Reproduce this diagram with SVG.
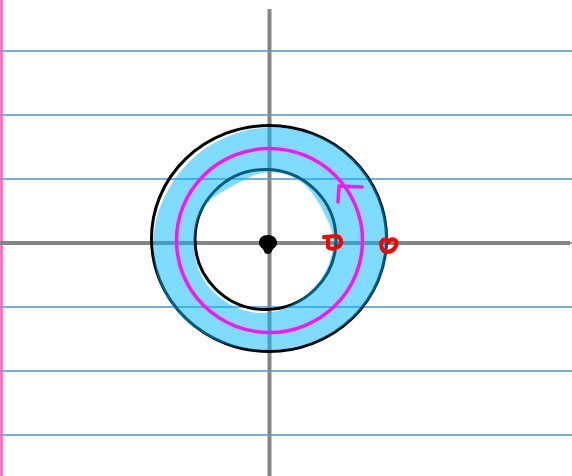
<svg xmlns="http://www.w3.org/2000/svg" width="572" height="476" viewBox="0 0 572 476">
<style>
.rule{stroke:#4a90e2;stroke-width:1.5;fill:none}
.axis{stroke:#858585;stroke-width:4;fill:none}
.red{stroke:#ff0000;stroke-width:4;fill:none;stroke-linecap:round;stroke-linejoin:round}
.mag{stroke:#ff14f0;stroke-width:3.5;fill:none;stroke-linecap:round;stroke-linejoin:round}
</style>
<rect width="572" height="476" fill="#ffffff"/>
<g id="paper">
<line class="rule" x1="0" y1="51" x2="572" y2="51"/>
<line class="rule" x1="0" y1="115" x2="572" y2="115"/>
<line class="rule" x1="0" y1="179" x2="572" y2="179"/>
<line class="rule" x1="0" y1="243" x2="572" y2="243"/>
<line class="rule" x1="0" y1="307" x2="572" y2="307"/>
<line class="rule" x1="0" y1="371" x2="572" y2="371"/>
<line class="rule" x1="0" y1="435" x2="572" y2="435"/>
<line x1="1.5" y1="0" x2="1.5" y2="476" stroke="#ff5cb0" stroke-width="2.5"/>
</g>
<g id="axes">
<line class="axis" x1="269.5" y1="9" x2="269.5" y2="476"/>
<line class="axis" x1="0" y1="243" x2="570" y2="243"/>
</g>
<g id="outer-circle">
<ellipse cx="269" cy="238.5" rx="117.5" ry="113" fill="none" stroke="#000000" stroke-width="3"/>
</g>
<g id="inner-circle">
<ellipse cx="265.5" cy="239.5" rx="70.5" ry="70" fill="none" stroke="#000000" stroke-width="3"/>
</g>
<g id="ring-fill">
<path fill="#00b8ff" fill-opacity="0.5" fill-rule="evenodd" d="M383.4,268.0 Q391.6,238.5 383.0,209.3 Q374.3,180.0 352.1,158.6 Q329.8,137.2 299.4,130.4 Q269,123.6 239.7,132.2 Q210.3,140.8 189.3,161.7 Q168.2,182.6 158.9,210.6 Q149.5,238.5 155.7,268.3 Q161.9,298.0 184.8,319.4 Q207.7,340.7 238.4,347.1 Q269,353.4 299.2,346.2 Q329.3,339.0 352.3,318.3 Q375.2,297.5 383.4,268.0 Z M331.2,257.1 Q335.9,239.5 329.0,223.2 Q322.0,206.9 311.6,192.3 Q301.2,177.7 283.4,173.4 Q265.5,169.1 249.7,177.0 Q233.9,184.9 218.4,194.1 Q202.8,203.3 197.4,221.4 Q192.0,239.5 195.6,258.7 Q199.2,277.8 213.2,291.8 Q227.2,305.8 246.4,311.0 Q265.5,316.1 283.4,308.7 Q301.2,301.3 313.9,288.0 Q326.5,274.7 331.2,257.1 Z"/>
</g>
<g id="path-circle">
<ellipse cx="269.5" cy="240.5" rx="93" ry="92" class="mag"/>
<path d="M362,187 L339,186 L338,202" class="mag"/>
</g>
<g id="origin">
<path fill="#000000" d="M268,235 C274,235 277,239 277,243 C277,247 273,248 272,251 C271,255 264,255 264,251 C263,248 259,247 259,243 C259,238 262,235 268,235 Z"/>
</g>
<g id="marks">
<path class="red" d="M324,237 L336,236 C342,237 343,244 338,247 C334,249 330,249 328,247 L328,238"/>
<path class="red" d="M383,240 C379,244 382,252 387,252 C393,252 398,246 396,241 C394,238 390,239 389,242 C387,239 384,239 383,240 Z"/>
</g>
</svg>
